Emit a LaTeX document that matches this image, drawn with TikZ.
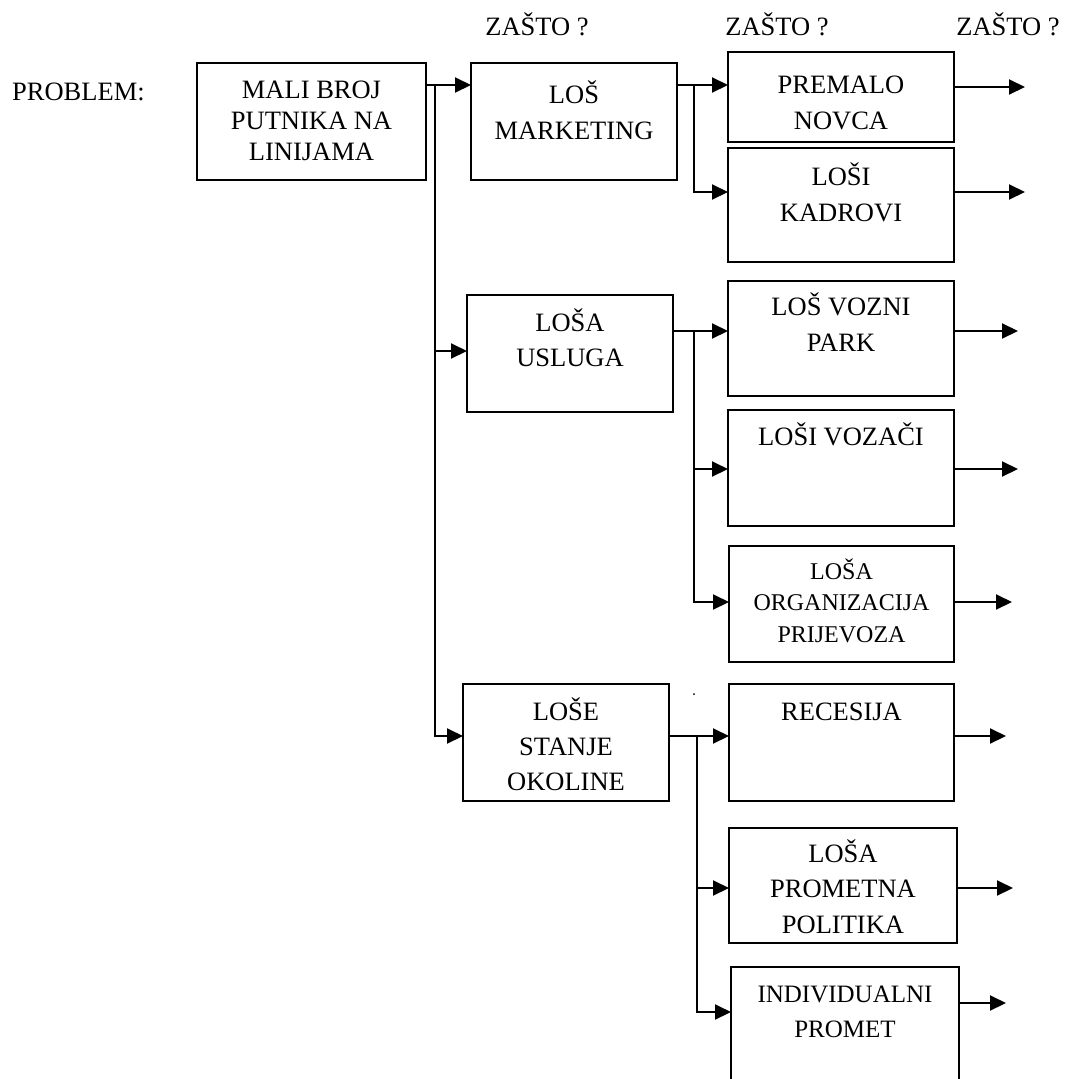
\documentclass[tikz,border=0pt]{standalone}
\usepackage{fontspec}
\setmainfont{Liberation Serif}
\usetikzlibrary{arrows.meta}
\newcommand\bxt[6]{\parbox[c][#2pt][t]{#1pt}{\centering\fontsize{#4}{#5}\selectfont\rule{0pt}{#3pt}#6}}
\tikzset{
  bx/.style={draw, line width=2pt, inner sep=0pt, outer sep=0pt, anchor=north west},
  ln/.style={line width=2pt},
  ar/.style={line width=2pt, -{Triangle[length=16pt,width=15pt]}},
  lbl/.style={inner sep=0pt, font=\fontsize{26.5}{31}\selectfont}
}
\begin{document}
\begin{tikzpicture}[x=1pt,y=-1pt]
\fill[white] (0,0) rectangle (1074,1079);
\clip (0,0) rectangle (1074,1079);
% labels
\node[lbl, anchor=base west] (prob) at (12,100) {PROBLEM:};
\node[lbl, anchor=base] (z1) at (537,35) {ZAŠTO ?};
\node[lbl, anchor=base] (z2) at (777,35) {ZAŠTO ?};
\node[lbl, anchor=base] (z3) at (1008,35) {ZAŠTO ?};
% first column
\node[bx] (mali) at (197,63) {\bxt{229}{117}{35}{26.5}{31}{MALI BROJ\\PUTNIKA NA\\LINIJAMA}};
% second column
\node[bx] (mark) at (471,63) {\bxt{206}{117}{40}{26.5}{36}{LOŠ\\MARKETING}};
\node[bx] (uslu) at (467,295) {\bxt{206}{117}{36}{26.5}{35}{LOŠA\\USLUGA}};
\node[bx] (lose) at (463,684) {\bxt{206}{117}{36}{26.5}{35}{LOŠE\\STANJE\\OKOLINE}};
% third column
\node[bx] (prem) at (728,52) {\bxt{226}{90}{41}{26.5}{36}{PREMALO\\NOVCA}};
\node[bx] (kadr) at (728,148) {\bxt{226}{114}{37}{26.5}{36}{LOŠI\\KADROVI}};
\node[bx] (vozn) at (728,281) {\bxt{226}{115}{34}{26.5}{36}{LOŠ VOZNI\\PARK}};
\node[bx] (voza) at (728,410) {\bxt{226}{116}{35}{26.5}{35}{LOŠI VOZAČI}};
\node[bx] (orga) at (729,546) {\bxt{225}{116}{33}{24}{31.5}{LOŠA\\ORGANIZACIJA\\PRIJEVOZA}};
\node[bx] (rece) at (729,684) {\bxt{225}{117}{36}{26.5}{35}{RECESIJA}};
\node[bx] (prom) at (729,828) {\bxt{228}{115}{34}{26.5}{35.5}{LOŠA\\PROMETNA\\POLITIKA}};
\node[bx] (indi) at (731,967) {\bxt{228}{150}{35}{25}{35}{INDIVIDUALNI\\PROMET}};
% junction coordinates
\coordinate (j1) at (435,85);
\coordinate (j2) at (435,351);
\coordinate (j3) at (435,736);
\coordinate (k1) at (694,85);
\coordinate (k2) at (694,192);
\coordinate (u1) at (694,331);
\coordinate (u2) at (694,469);
\coordinate (u3) at (694,602);
\coordinate (l1) at (697,736);
\coordinate (l2) at (697,888);
\coordinate (l3) at (697,1012);
% trunk from problem box
\draw[ar] (mali.east |- j1) -- (mark.west |- j1);
\draw[ar] (j1) |- (lose.west |- j3);
\draw[ar] (j2) -- (uslu.west |- j2);
% marketing branch
\draw[ar] (mark.east |- k1) -- (prem.west |- k1);
\draw[ar] (k1) |- (kadr.west |- k2);
% usluga branch
\draw[ar] (uslu.east |- u1) -- (vozn.west |- u1);
\draw[ar] (u1) |- (orga.west |- u3);
\draw[ar] (u2) -- (voza.west |- u2);
% okolina branch
\draw[ar] (lose.east |- l1) -- (rece.west |- l1);
\draw[ar] (l1) |- (indi.west |- l3);
\draw[ar] (l2) -- (prom.west |- l2);
% outgoing arrows
\coordinate (o1) at (1025,87);
\coordinate (o2) at (1025,192);
\coordinate (o3) at (1018,331);
\coordinate (o4) at (1018,469);
\coordinate (o5) at (1012,602);
\coordinate (o6) at (1006,736);
\coordinate (o7) at (1013,888);
\coordinate (o8) at (1006,1003);
\draw[ar] (prem.east |- o1) -- (o1);
\draw[ar] (kadr.east |- o2) -- (o2);
\draw[ar] (vozn.east |- o3) -- (o3);
\draw[ar] (voza.east |- o4) -- (o4);
\draw[ar] (orga.east |- o5) -- (o5);
\draw[ar] (rece.east |- o6) -- (o6);
\draw[ar] (prom.east |- o7) -- (o7);
\draw[ar] (indi.east |- o8) -- (o8);
% stray dot
\fill (694,694) circle (1pt);
\end{tikzpicture}
\end{document}
